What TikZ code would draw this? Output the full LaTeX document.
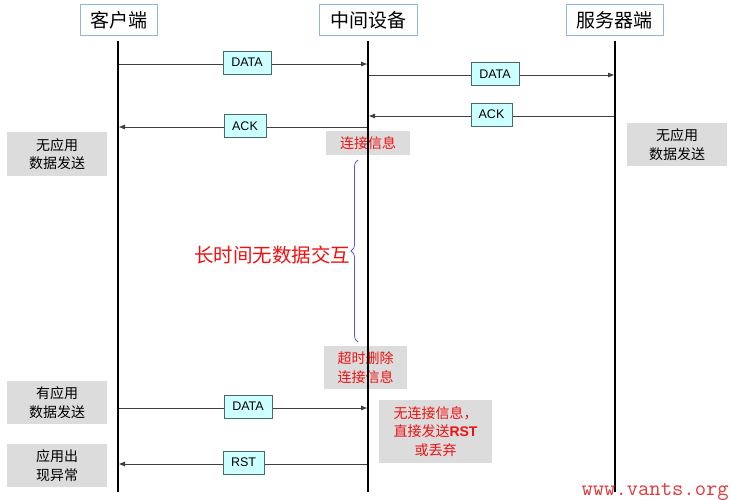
\documentclass[tikz,border=0pt]{standalone}
\usepackage{fontspec}
\setmainfont{Noto Sans CJK SC}
\newfontfamily\arial{Liberation Sans}
\usetikzlibrary{arrows.meta,decorations.pathreplacing}
\definecolor{headblue}{HTML}{8EB4E0}
\definecolor{lblfill}{HTML}{CCFFFF}
\definecolor{lblborder}{HTML}{4A6A6A}
\definecolor{notegray}{HTML}{DCDCDC}
\definecolor{msggray}{HTML}{404040}
\definecolor{warnred}{HTML}{F01010}
\definecolor{bracecol}{HTML}{5A5AE0}
\definecolor{wmred}{HTML}{E03A3A}
\tikzset{
  head/.style={draw=headblue, line width=1pt, fill=white, inner sep=0pt,
    minimum height=31pt, font=\fontsize{19}{19}\selectfont},
  msglbl/.style={draw=lblborder, fill=lblfill, line width=0.9pt, inner sep=0pt,
    minimum height=23pt, font=\arial\fontsize{12.5}{12.5}\selectfont},
  note/.style={fill=notegray, inner sep=0pt, align=center, minimum width=100pt,
    minimum height=43pt, font=\fontsize{14}{18.5}\selectfont},
  rednote/.style={fill=notegray, inner sep=0pt, align=center, text=warnred,
    font=\fontsize{14}{18.5}\selectfont},
  life/.style={line width=1.6pt, black},
  msg/.style={draw=msggray, line width=0.9pt, -{Triangle[length=6pt,width=4.5pt]}}
}
\begin{document}
\begin{tikzpicture}[x=1pt,y=-1pt]
\useasboundingbox (0,0) rectangle (731,500);
% headers
\node[head, minimum width=77pt] (hc) at (118.5,20.5) {客户端};
\node[head, minimum width=98pt] (hm) at (368,20.5) {中间设备};
\node[head, minimum width=97pt] (hs) at (614.5,20.5) {服务器端};
% notes (behind lifelines)
\node[note] (n1) at (57,154) {无应用\\数据发送};
\node[note] (n2) at (677,144.5) {无应用\\数据发送};
\node[note] (n3) at (57,402.5) {有应用\\数据发送};
\node[note] (n4) at (57,465.5) {应用出\\现异常};
\node[rednote, minimum width=84pt, minimum height=24pt] (r1) at (368,143) {连接信息};
\node[rednote, minimum width=83pt, minimum height=43pt] (r2) at (365.5,367.5) {超时删除\\连接信息};
\node[rednote, minimum width=113pt, minimum height=63pt] (r3) at (435.5,431.5) {无连接信息，\\直接发送{\arial\bfseries RST}\\或丢弃};
% lifelines
\coordinate (cT) at (118,41);  \coordinate (cB) at (118,492);
\coordinate (mT) at (368,41);  \coordinate (mB) at (368,492);
\coordinate (sT) at (615,41);  \coordinate (sB) at (615,492);
\draw[life] (cT) -- (cB);
\draw[life] (mT) -- (mB);
\draw[life] (sT) -- (sB);
% messages
\coordinate (a1s) at (119,64);  \coordinate (a1e) at (367,64);
\draw[msg] (a1s) -- (a1e);
\node[msglbl, minimum width=48pt] (l1) at (247,62.5) {DATA};
\coordinate (a2s) at (369,75);  \coordinate (a2e) at (614,75);
\draw[msg] (a2s) -- (a2e);
\node[msglbl, minimum width=48pt] (l2) at (495,74) {DATA};
\coordinate (a3s) at (614,116);  \coordinate (a3e) at (369,116);
\draw[msg] (a3s) -- (a3e);
\node[msglbl, minimum width=41pt] (l3) at (491.5,114.5) {ACK};
\coordinate (a4s) at (367,127);  \coordinate (a4e) at (119,127);
\draw[msg] (a4s) -- (a4e);
\node[msglbl, minimum width=42pt] (l4) at (245,126) {ACK};
\coordinate (a5s) at (119,408);  \coordinate (a5e) at (367,408);
\draw[msg] (a5s) -- (a5e);
\node[msglbl, minimum width=48pt] (l5) at (248,406.5) {DATA};
\coordinate (a6s) at (367,464);  \coordinate (a6e) at (119,464);
\draw[msg] (a6s) -- (a6e);
\node[msglbl, minimum width=41pt] (l6) at (243.5,462.5) {RST};
% brace
\coordinate (bB) at (358,342); \coordinate (bT) at (358,160);
\draw[bracecol, line width=0.8pt, decorate, decoration={brace, amplitude=7pt}] (bB) -- (bT);
\node[text=warnred, font=\fontsize{19.5}{19.5}\selectfont, inner sep=0pt] (gap) at (272,255) {长时间无数据交互};
% watermark
\node[text=wmred, font=\ttfamily\fontsize{22}{22}\selectfont, inner sep=0pt, anchor=base east] (wm) at (729,495) {www.vants.org};
\end{tikzpicture}
\end{document}
